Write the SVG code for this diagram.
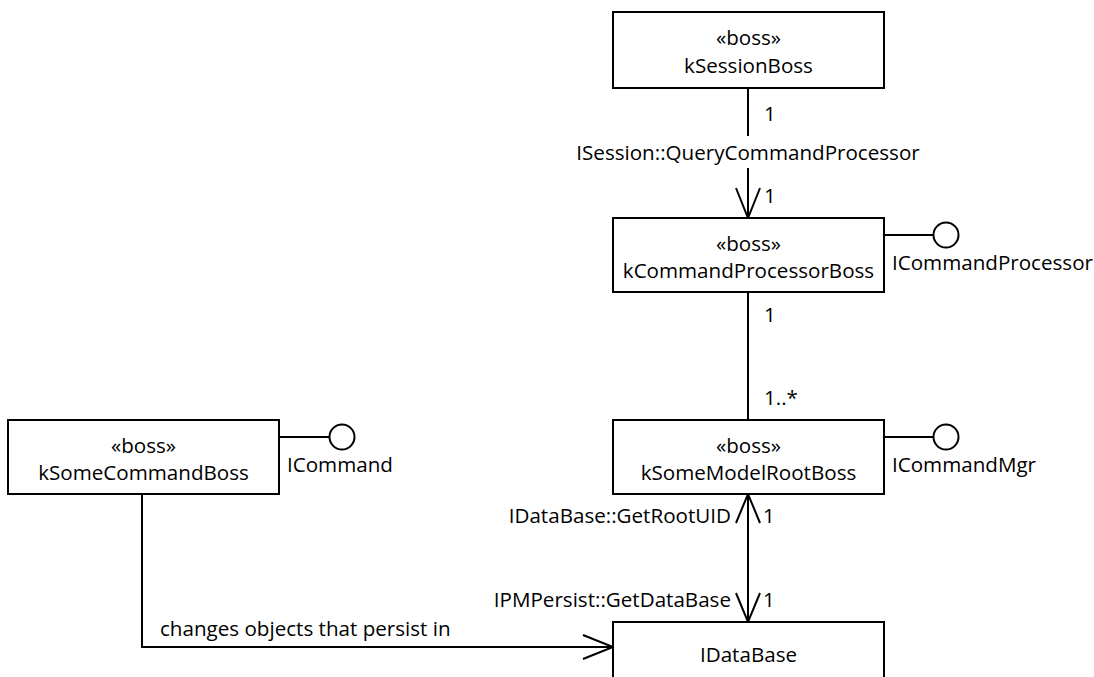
<svg xmlns="http://www.w3.org/2000/svg" width="1094" height="677" viewBox="0 0 1094 677">
  <style>
    text { font-family: "Open Sans", "Noto Sans", "Liberation Sans", sans-serif; font-size: 20.6px; fill: #000; }
    .c { text-anchor: middle; }
    .e { text-anchor: end; }
    .box { fill: #fff; stroke: #000; stroke-width: 2; }
    .ln { fill: none; stroke: #000; stroke-width: 2; }
    .lolly { fill: #fff; stroke: #000; stroke-width: 2; }
  </style>
  <rect width="1094" height="677" fill="#fff"/>

  <!-- connectors -->
  <g id="connectors">
    <!-- kSessionBoss to kCommandProcessorBoss (navigable downwards) -->
    <g id="session-to-cmdproc">
      <line class="ln" x1="748" y1="88" x2="748" y2="136"/>
      <line class="ln" x1="748" y1="168" x2="748" y2="218"/>
      <polyline class="ln" points="736,188 748,218 760,188"/>
      <text class="c" x="748" y="160">ISession::QueryCommandProcessor</text>
      <text x="764" y="121">1</text>
      <text x="764" y="203">1</text>
    </g>
    <!-- kCommandProcessorBoss to kSomeModelRootBoss -->
    <g id="cmdproc-to-root">
      <line class="ln" x1="748" y1="292" x2="748" y2="420"/>
      <text x="764" y="322">1</text>
      <text x="764" y="405">1..*</text>
    </g>
    <!-- kSomeModelRootBoss and IDataBase (navigable both ways) -->
    <g id="root-database">
      <line class="ln" x1="748" y1="494" x2="748" y2="622"/>
      <polyline class="ln" points="736,523 748,494 760,523"/>
      <polyline class="ln" points="736,593 748,622 760,593"/>
      <text class="e" x="731" y="523">IDataBase::GetRootUID</text>
      <text x="763" y="523">1</text>
      <text class="e" x="731" y="607">IPMPersist::GetDataBase</text>
      <text x="763" y="607">1</text>
    </g>
    <!-- kSomeCommandBoss to IDataBase -->
    <g id="command-to-database">
      <polyline class="ln" points="142,494 142,647 613,647"/>
      <polyline class="ln" points="583,635 613,647 583,659"/>
      <text x="160" y="636">changes objects that persist in</text>
    </g>
  </g>

  <!-- nodes -->
  <g id="kSessionBoss">
    <rect class="box" x="613" y="12" width="271" height="76"/>
    <text class="c" x="748.5" y="45">«boss»</text>
    <text class="c" x="748.5" y="73">kSessionBoss</text>
  </g>

  <g id="kCommandProcessorBoss">
    <rect class="box" x="613" y="218" width="271" height="74"/>
    <text class="c" x="748.5" y="251">«boss»</text>
    <text class="c" x="748.5" y="278">kCommandProcessorBoss</text>
    <line class="ln" x1="884" y1="235" x2="933.5" y2="235"/>
    <circle class="lolly" cx="946" cy="235" r="12.5"/>
    <text x="892" y="270">ICommandProcessor</text>
  </g>

  <g id="kSomeModelRootBoss">
    <rect class="box" x="613" y="420" width="271" height="74"/>
    <text class="c" x="748.5" y="453">«boss»</text>
    <text class="c" x="748.5" y="480">kSomeModelRootBoss</text>
    <line class="ln" x1="884" y1="437" x2="933.5" y2="437"/>
    <circle class="lolly" cx="946" cy="437" r="12.5"/>
    <text x="892" y="472">ICommandMgr</text>
  </g>

  <g id="kSomeCommandBoss">
    <rect class="box" x="8" y="420" width="271" height="74"/>
    <text class="c" x="143.5" y="453">«boss»</text>
    <text class="c" x="143.5" y="480">kSomeCommandBoss</text>
    <line class="ln" x1="279" y1="437" x2="329.5" y2="437"/>
    <circle class="lolly" cx="342" cy="437" r="12.5"/>
    <text x="287" y="472">ICommand</text>
  </g>

  <g id="IDataBase">
    <rect class="box" x="613" y="622" width="271" height="90"/>
    <text class="c" x="748.5" y="662">IDataBase</text>
  </g>
</svg>
